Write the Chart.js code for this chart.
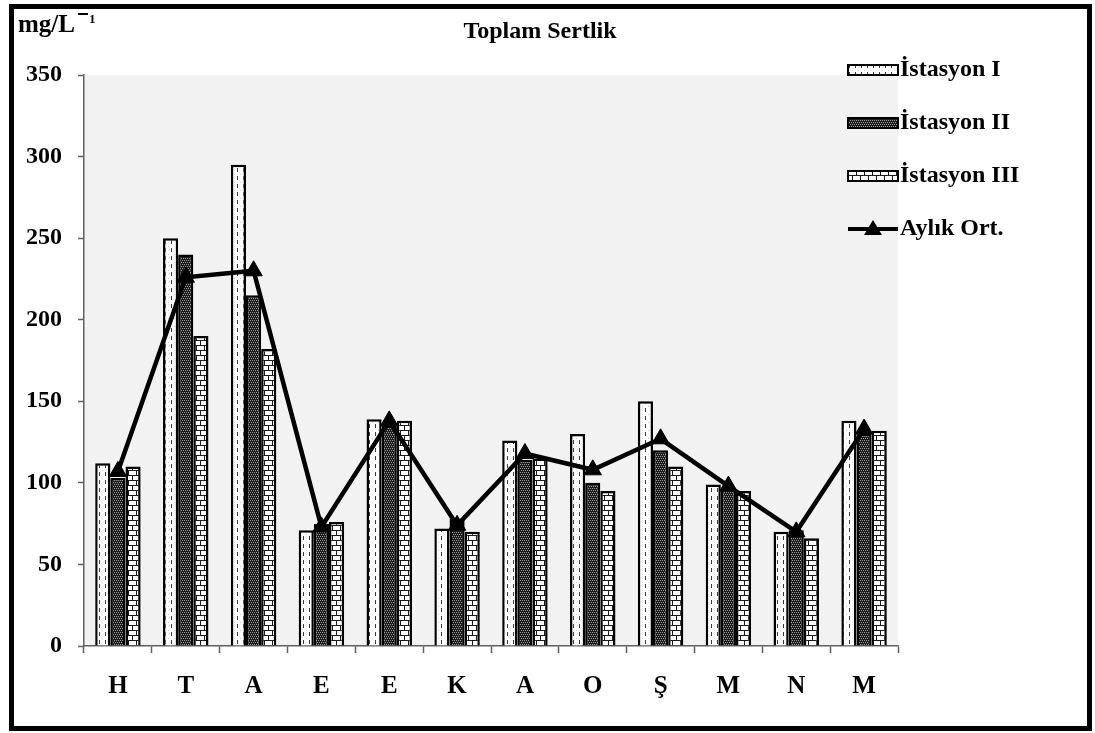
<!DOCTYPE html>
<html>
<head>
<meta charset="utf-8">
<title>Toplam Sertlik</title>
<script src="https://cdn.jsdelivr.net/npm/chart.js@4.4.1/dist/chart.umd.min.js"></script>
<style>
  html, body { margin: 0; padding: 0; background: #ffffff; }
  canvas { display: block; }
</style>
</head>
<body>
<canvas id="chart" width="1095" height="733"></canvas>
<script>
// Months (initials) along the x axis
const categories = ['H', 'T', 'A', 'E', 'E', 'K', 'A', 'O', 'Ş', 'M', 'N', 'M'];

// Total hardness per station, mg/L
const istasyon1 = [112, 250, 295, 71, 139, 72, 126, 130, 150, 99, 70, 138];
const istasyon2 = [103, 240, 215, 75, 135, 78, 114, 100, 120, 97, 71, 130];
const istasyon3 = [110, 190, 182, 76, 138, 70, 115, 95, 110, 95, 66, 132];

// Monthly mean across stations
const aylikOrt = [107, 226, 230, 73, 138, 74, 118, 108, 127, 98, 70, 133];

// Axis tick values
const yTicks = [0, 50, 100, 150, 200, 250, 300, 350];

const seriesLabels = ['İstasyon I', 'İstasyon II', 'İstasyon III', 'Aylık Ort.'];
const titleText = 'Toplam Sertlik';
const unitText = 'mg/L';

const SERIF = '"Liberation Serif", "Times New Roman", serif';

// --- fill patterns -------------------------------------------------------
function makeTile(w, h, paint) {
  const c = document.createElement('canvas');
  c.width = w; c.height = h;
  const g = c.getContext('2d');
  paint(g);
  return c;
}
const ctx0 = document.getElementById('chart').getContext('2d');

// white with vertical dashed strokes
const dashTile = makeTile(6, 8, g => {
  g.fillStyle = '#ffffff'; g.fillRect(0, 0, 6, 8);
  g.fillStyle = '#3a3a3a'; g.fillRect(3, 0, 1, 4);
  g.fillStyle = '#d0d0d0'; g.fillRect(0, 6, 1, 1);
});
// dark dotted texture
const dotTile = makeTile(4, 4, g => {
  g.fillStyle = '#1c1c1c'; g.fillRect(0, 0, 4, 4);
  g.fillStyle = '#9a9a9a';
  g.fillRect(0, 0, 1, 1); g.fillRect(2, 0, 1, 1);
  g.fillRect(1, 2, 1, 1); g.fillRect(3, 2, 1, 1);
});
// brick texture
const brickTile = makeTile(8, 10, g => {
  g.fillStyle = '#ffffff'; g.fillRect(0, 0, 8, 10);
  g.fillStyle = '#1a1a1a';
  g.fillRect(0, 0, 8, 1);
  g.fillRect(0, 5, 8, 1);
  g.fillRect(0, 0, 1, 5);
  g.fillRect(4, 5, 1, 5);
});
const patI = ctx0.createPattern(dashTile, 'repeat');
const patII = ctx0.createPattern(dotTile, 'repeat');
const patIII = ctx0.createPattern(brickTile, 'repeat');
const patterns = [patI, patII, patIII];

// --- plugins -------------------------------------------------------------
const plotBackground = {
  id: 'plotBackground',
  beforeDraw(chart) {
    const { ctx, chartArea: a } = chart;
    ctx.save();
    ctx.fillStyle = '#ffffff';
    ctx.fillRect(0, 0, chart.width, chart.height);
    ctx.fillStyle = '#f2f2f2';
    ctx.fillRect(a.left, a.top, a.right - a.left, a.bottom - a.top);
    ctx.restore();
  }
};

const decorations = {
  id: 'decorations',
  afterDraw(chart) {
    const { ctx } = chart;
    ctx.save();

    // title
    ctx.fillStyle = '#000';
    ctx.font = 'bold 24px ' + SERIF;
    ctx.textAlign = 'center';
    ctx.textBaseline = 'middle';
    ctx.fillText(titleText, 540, 32);

    // unit label with superscript -1
    ctx.textAlign = 'left';
    ctx.font = 'bold 25px ' + SERIF;
    ctx.fillText(unitText, 18, 26);
    const uw = ctx.measureText(unitText).width;
    ctx.fillRect(18 + uw + 3, 13, 10, 2);
    ctx.font = 'bold 13px ' + SERIF;
    ctx.fillText('1', 18 + uw + 14, 20);

    // legend
    const lx = 848, bw = 50, bh = 10;
    const ys = [70, 123, 176, 229];
    ctx.font = 'bold 24px ' + SERIF;
    ctx.textBaseline = 'middle';
    for (let i = 0; i < 3; i++) {
      ctx.fillStyle = patterns[i];
      ctx.fillRect(lx, ys[i] - bh / 2, bw, bh);
      ctx.lineWidth = 2;
      ctx.strokeStyle = '#000';
      ctx.strokeRect(lx, ys[i] - bh / 2, bw, bh);
      ctx.fillStyle = '#000';
      ctx.fillText(seriesLabels[i], lx + bw + 2, ys[i]);
    }
    const ly = ys[3];
    ctx.strokeStyle = '#000';
    ctx.lineWidth = 4;
    ctx.beginPath();
    ctx.moveTo(lx, ly); ctx.lineTo(lx + bw, ly);
    ctx.stroke();
    ctx.beginPath();
    ctx.moveTo(lx + bw / 2, ly - 9);
    ctx.lineTo(lx + bw / 2 + 9, ly + 6);
    ctx.lineTo(lx + bw / 2 - 9, ly + 6);
    ctx.closePath();
    ctx.fillStyle = '#000';
    ctx.fill();
    ctx.fillText(seriesLabels[3], lx + bw + 2, ly);

    // outer frame
    ctx.strokeStyle = '#000';
    ctx.lineWidth = 5;
    ctx.strokeRect(11.5, 6.5, 1078, 722);
    ctx.restore();
  }
};

// --- chart ---------------------------------------------------------------
const barCommon = {
  type: 'bar',
  borderColor: '#000000',
  borderWidth: 2.5,
  categoryPercentage: 0.67,
  barPercentage: 1.0,
  order: 2
};

new Chart(ctx0, {
  data: {
    labels: categories,
    datasets: [
      Object.assign({}, barCommon, { label: seriesLabels[0], data: istasyon1, backgroundColor: patI }),
      Object.assign({}, barCommon, { label: seriesLabels[1], data: istasyon2, backgroundColor: patII }),
      Object.assign({}, barCommon, { label: seriesLabels[2], data: istasyon3, backgroundColor: patIII }),
      {
        type: 'line',
        label: seriesLabels[3],
        data: aylikOrt,
        borderColor: '#000000',
        backgroundColor: '#000000',
        borderWidth: 4.5,
        tension: 0,
        pointStyle: 'triangle',
        pointRadius: 10,
        pointBorderWidth: 1,
        pointBackgroundColor: '#000000',
        order: 1
      }
    ]
  },
  options: {
    responsive: false,
    animation: false,
    devicePixelRatio: 1,
    layout: { padding: { left: 0, top: 75, right: 197, bottom: 0 } },
    plugins: {
      legend: { display: false },
      title: { display: false },
      tooltip: { enabled: false }
    },
    scales: {
      x: {
        offset: true,
        grid: {
          offset: true,
          drawOnChartArea: false,
          drawTicks: true,
          tickLength: 7,
          tickColor: '#606060',
          tickWidth: 1.5
        },
        border: { color: '#606060', width: 1.5 },
        ticks: {
          color: '#000',
          padding: 19,
          font: { family: SERIF, size: 25, weight: 'bold' }
        },
        afterFit(scale) { scale.height = 87; }
      },
      y: {
        min: 0,
        max: 350,
        afterBuildTicks(scale) { scale.ticks = yTicks.map(v => ({ value: v })); },
        grid: {
          drawOnChartArea: false,
          drawTicks: true,
          tickLength: 6,
          tickColor: '#606060',
          tickWidth: 1.5
        },
        border: { color: '#606060', width: 1.5 },
        ticks: {
          color: '#000',
          padding: 16,
          font: { family: SERIF, size: 24, weight: 'bold' }
        },
        afterFit(scale) { scale.width = 84; }
      }
    }
  },
  plugins: [plotBackground, decorations]
});
</script>
</body>
</html>
